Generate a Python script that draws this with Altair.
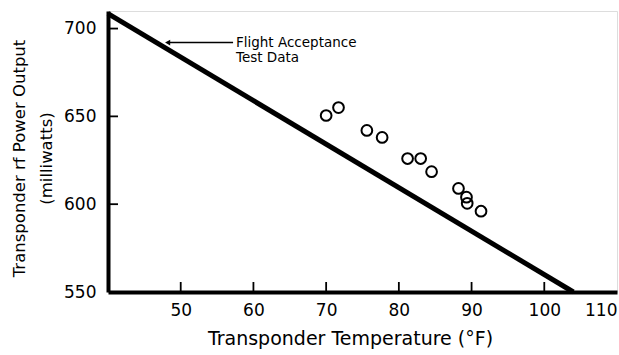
import altair as alt
import pandas as pd

# Measured points (Transponder temperature °F, rf power output mW)
temps = [70.0, 71.7, 75.6, 77.7, 81.2, 83.0, 84.5, 88.2, 89.3, 89.4, 91.3]
powers = [650.5, 655.0, 642.0, 638.0, 626.0, 626.0, 618.5, 609.0, 604.0, 600.5, 596.0]

# Flight acceptance test data line (end points)
line_t = [40.0, 104.0]
line_p = [708.5, 550.0]

x_ticks = [50, 60, 70, 80, 90, 100, 110]
y_ticks = [550, 600, 650, 700]

# annotation
note_lines = ["Flight Acceptance", "Test Data"]
note_t = [57.6, 57.6]
note_p = [691.8, 683.2]
arrow_t = [48.2, 57.2]
arrow_p = [692.0, 692.0]

FONT = "DejaVu Sans"

xs = alt.Scale(domain=[40, 110], nice=False, zero=False)
ys = alt.Scale(domain=[550, 710], nice=False, zero=False)

pts = pd.DataFrame({"t": temps, "p": powers})
ln = pd.DataFrame({"t": line_t, "p": line_p})
notes = pd.DataFrame({"t": note_t, "p": note_p, "txt": note_lines})
arr = pd.DataFrame({"t": [arrow_t[0]], "t2": [arrow_t[1]], "p": [arrow_p[0]]})
xt = pd.DataFrame({"t": x_ticks[:-1]})
yt = pd.DataFrame({"p": y_ticks[1:]})

base_x = alt.X("t:Q", scale=xs,
               axis=alt.Axis(values=x_ticks, title="Transponder Temperature (°F)",
                             grid=False, ticks=False, domainWidth=4, domainColor="black",
                             labelFontSize=17, labelFont=FONT, labelColor="black",
                             labelPadding=10, labelFlush=True,
                             titleFont=FONT, titleFontSize=19, titleFontWeight="normal",
                             titleColor="black", titlePadding=11, titleX=242))
base_y = alt.Y("p:Q", scale=ys,
               axis=alt.Axis(values=y_ticks, title=["Transponder rf Power Output", "(milliwatts)"],
                             grid=False, ticks=False, domainWidth=4, domainColor="black",
                             labelFontSize=17, labelFont=FONT, labelColor="black",
                             labelPadding=12,
                             titleFont=FONT, titleFontSize=16.5, titleFontWeight="normal",
                             titleColor="black", titlePadding=9, titleLineHeight=27,
                             titleY=147))

line = alt.Chart(ln).mark_line(color="black", strokeWidth=5).encode(x=base_x, y=base_y)
circles = alt.Chart(pts).mark_point(shape="circle", filled=False, color="black",
                                    size=115, strokeWidth=2, opacity=1).encode(x="t:Q", y="p:Q")
xtick = alt.Chart(xt).mark_rule(color="black", strokeWidth=1.8).encode(
    x=alt.X("t:Q"), y=alt.value(281), y2=alt.value(271))
ytick = alt.Chart(yt).mark_rule(color="black", strokeWidth=1.8).encode(
    y=alt.Y("p:Q"), x=alt.value(0), x2=alt.value(10))
text = alt.Chart(notes).mark_text(align="left", baseline="middle", font=FONT,
                                  fontSize=13.5, color="black").encode(
    x="t:Q", y="p:Q", text="txt:N")
arrow_line = alt.Chart(arr).mark_rule(color="black", strokeWidth=1.5).encode(
    x="t:Q", x2="t2:Q", y="p:Q")
arrow_head = alt.Chart(arr).mark_point(shape="triangle-left", filled=True, color="black",
                                       size=35, opacity=1).encode(x="t:Q", y="p:Q")

chart = alt.layer(line, circles, xtick, ytick, arrow_line, arrow_head, text).properties(
    width=509, height=281,
    autosize=alt.AutoSizeParams(type="none"),
    padding={"left": 108, "top": 11, "right": 2, "bottom": 63},
).configure_view(stroke="black", strokeWidth=1.5).configure(background="white")

chart.save("out.html", embed_options={"renderer": "svg", "actions": False})
